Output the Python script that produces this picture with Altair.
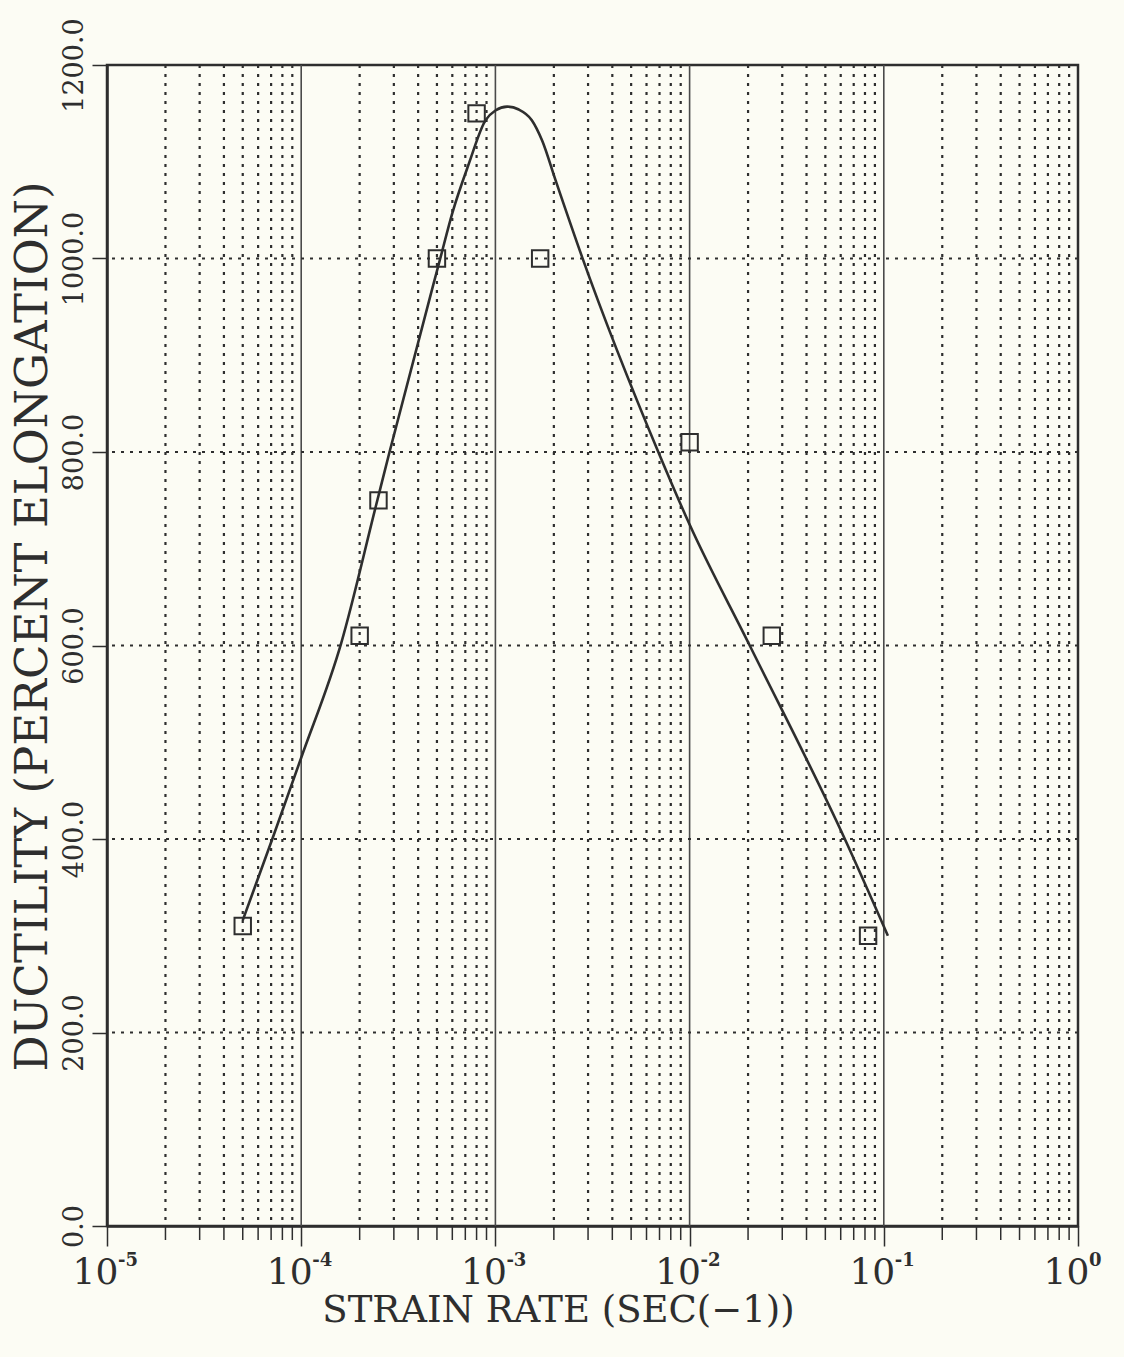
import altair as alt
import pandas as pd

# measured squares (strain rate, ductility %)
pts_x = [5e-5, 2e-4, 2.5e-4, 5e-4, 8e-4, 1.7e-3, 1e-2, 2.65e-2, 8.3e-2]
pts_y = [310, 610, 750, 1000, 1150, 1000, 810, 610, 300]

# fitted curve
curve_x = [5e-5, 7.1e-5, 1e-4, 1.61e-4, 2.43e-4, 2.85e-4, 5.2e-4, 6e-4,
           7.3e-4, 8.9e-4, 1e-3, 1.15e-3, 1.32e-3, 1.54e-3, 1.74e-3, 2.04e-3,
           2.79e-3, 6.9e-3, 1e-2, 2.04e-2, 6.3e-2, 1.05e-1]
curve_y = [316, 400, 484, 603, 745, 800, 1000, 1047,
           1098, 1143, 1153, 1157, 1154, 1143, 1122, 1081,
           1002, 800, 725, 600, 400, 300]

decades = [1e-5, 1e-4, 1e-3, 1e-2, 1e-1, 1e0]
exponents = ["-5", "-4", "-3", "-2", "-1", "0"]
inner_decades = [1e-4, 1e-3, 1e-2, 1e-1]
minor_x = [m * d for d in [1e-5, 1e-4, 1e-3, 1e-2, 1e-1] for m in range(2, 10)]
y_ticks = [0, 200, 400, 600, 800, 1000, 1200]
y_grid = [200, 400, 600, 800, 1000]

W, H = 971, 1161
INK = "#2e2e2e"
FONT = "DejaVu Serif"

xscale = alt.Scale(type="log", domain=[1e-5, 1], nice=False)
yscale = alt.Scale(domain=[0, 1200], nice=False)

xaxis = alt.Axis(
    values=decades,
    title="STRAIN RATE (SEC(\u22121))",
    titleFont=FONT,
    titleFontSize=37,
    titleFontWeight="normal",
    titleColor=INK,
    titleX=451,
    titleY=95,
    titleAlign="center",
    titleBaseline="alphabetic",
    labelExpr="'10'",
    labelFont=FONT,
    labelFontSize=36,
    labelColor=INK,
    labelOffset=-12,
    labelPadding=9,
    labelBaseline="top",
    labelFlush=False,
    labelOverlap=False,
    tickSize=20,
    tickWidth=1.5,
    tickColor=INK,
    domainColor=INK,
    domainWidth=2.5,
    grid=False,
)

yaxis = alt.Axis(
    values=y_ticks,
    format=".1f",
    title="DUCTILITY (PERCENT ELONGATION)",
    titleFont=FONT,
    titleFontSize=45,
    titleFontWeight="normal",
    titleColor=INK,
    titleAngle=-90,
    titleX=-75,
    titleY=561,
    titleAlign="center",
    titleBaseline="middle",
    labelFont=FONT,
    labelFontSize=27,
    labelColor=INK,
    labelAngle=-90,
    labelAlign="center",
    labelBaseline="bottom",
    labelPadding=4,
    labelFlush=False,
    labelOverlap=False,
    tickSize=15,
    tickWidth=1.5,
    tickColor=INK,
    domainColor=INK,
    domainWidth=2.5,
    grid=False,
)

curve_df = pd.DataFrame({"x": curve_x, "y": curve_y})
pts_df = pd.DataFrame({"x": pts_x, "y": pts_y})
minor_df = pd.DataFrame({"x": minor_x})
major_df = pd.DataFrame({"x": inner_decades})
ygrid_df = pd.DataFrame({"y": y_grid})
exp_df = pd.DataFrame({"x": decades, "e": exponents})

X = alt.X("x:Q", scale=xscale, axis=xaxis)
Y = alt.Y("y:Q", scale=yscale, axis=yaxis)

minor_grid = alt.Chart(minor_df).mark_rule(
    color=INK, strokeWidth=2.2, strokeDash=[3, 6]
).encode(x=X)

major_grid = alt.Chart(major_df).mark_rule(
    color="#4a4a4a", strokeWidth=1.6
).encode(x=X)

h_grid = alt.Chart(ygrid_df).mark_rule(
    color=INK, strokeWidth=2.2, strokeDash=[3, 6]
).encode(y=Y)

minor_ticks = alt.Chart(minor_df).mark_rule(
    color=INK, strokeWidth=1.5
).encode(
    x=X,
    y=alt.value(H),
    y2=alt.value(H + 14),
)

line = alt.Chart(curve_df).mark_line(
    color=INK, strokeWidth=2.6, interpolate="monotone"
).encode(x=X, y=Y)

points = alt.Chart(pts_df).mark_point(
    shape="square", size=270, filled=False, color=INK, strokeWidth=2, opacity=1
).encode(x=X, y=Y)

exp_text = alt.Chart(exp_df).mark_text(
    font=FONT, fontSize=18, fontWeight="bold", color=INK,
    align="left", baseline="top", dx=11
).encode(
    x=X,
    y=alt.value(H + 26),
    text="e:N",
)

chart = alt.layer(
    minor_grid, major_grid, h_grid, minor_ticks, line, points, exp_text
).properties(
    width=W,
    height=H,
    background="#fcfcf4",
    padding={"left": 107, "top": 65, "right": 46, "bottom": 131},
    autosize=alt.AutoSizeParams(type="none"),
).configure_view(
    stroke=INK, strokeWidth=2.5
)

chart.save("out.html", embed_options={"renderer": "svg", "actions": False})
